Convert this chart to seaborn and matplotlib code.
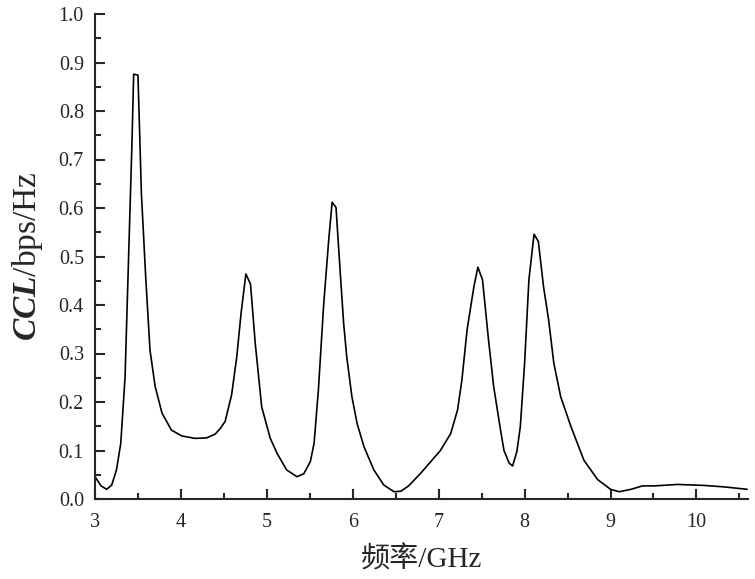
import matplotlib
matplotlib.use("Agg")
import matplotlib.pyplot as plt
import seaborn as sns
import pandas as pd
from matplotlib.ticker import MultipleLocator

freq = [3.00, 3.07, 3.136, 3.195, 3.25, 3.30, 3.35, 3.39, 3.43, 3.45, 3.50, 3.54, 3.59,
        3.64, 3.70, 3.78, 3.89, 4.01, 4.165, 4.30, 4.40, 4.46, 4.515, 4.59, 4.65, 4.70,
        4.756, 4.81, 4.865, 4.94, 5.04, 5.12, 5.23, 5.35, 5.43, 5.506, 5.55, 5.60, 5.66,
        5.72, 5.76, 5.805, 5.855, 5.894, 5.93, 5.99, 6.05, 6.13, 6.245, 6.36, 6.48, 6.56,
        6.65, 6.79, 7.02, 7.14, 7.22, 7.27, 7.33, 7.41, 7.456, 7.51, 7.58, 7.64, 7.72,
        7.76, 7.82, 7.86, 7.91, 7.95, 8.00, 8.05, 8.11, 8.16, 8.22, 8.28, 8.34, 8.42,
        8.54, 8.69, 8.85, 9.00, 9.10, 9.24, 9.37, 9.51, 9.78, 10.09, 10.32, 10.59]
ccl = [0.046, 0.027, 0.020, 0.029, 0.060, 0.115, 0.252, 0.493, 0.733, 0.876, 0.874, 0.630, 0.458,
       0.307, 0.232, 0.177, 0.142, 0.130, 0.125, 0.126, 0.134, 0.146, 0.160, 0.215, 0.293, 0.383,
       0.464, 0.443, 0.321, 0.190, 0.125, 0.094, 0.060, 0.046, 0.052, 0.077, 0.115, 0.225, 0.397,
       0.534, 0.612, 0.601, 0.465, 0.362, 0.293, 0.211, 0.156, 0.108, 0.060, 0.029, 0.015, 0.016,
       0.027, 0.053, 0.100, 0.135, 0.184, 0.245, 0.348, 0.438, 0.478, 0.452, 0.328, 0.232, 0.142,
       0.100, 0.074, 0.068, 0.098, 0.149, 0.280, 0.452, 0.546, 0.531, 0.438, 0.369, 0.280, 0.211,
       0.149, 0.080, 0.040, 0.020, 0.015, 0.020, 0.027, 0.027, 0.030, 0.028, 0.025, 0.020]

xticks = [3, 4, 5, 6, 7, 8, 9, 10]
yticks = [0.0, 0.1, 0.2, 0.3, 0.4, 0.5, 0.6, 0.7, 0.8, 0.9, 1.0]

sns.set_style("ticks")
plt.rcParams['font.family'] = ['Liberation Serif', 'Noto Sans CJK SC']
plt.rcParams['mathtext.fontset'] = 'custom'
plt.rcParams['mathtext.rm'] = 'Liberation Serif'
plt.rcParams['mathtext.it'] = 'Liberation Serif:italic'
plt.rcParams['mathtext.bf'] = 'Liberation Serif:bold'
plt.rcParams['mathtext.bfit'] = 'Liberation Serif:bold:italic'

df = pd.DataFrame({"freq": freq, "ccl": ccl})

fig = plt.figure(figsize=(7.55, 5.79), dpi=100)
ax = fig.add_axes([95/755, 80/579, 653/755, 485/579])
sns.lineplot(data=df, x="freq", y="ccl", ax=ax, sort=False, estimator=None,
             color="black", linewidth=1.2)

ax.set_xlim(3, 10.6)
ax.set_ylim(0, 1.0)
ax.set_xticks(xticks)
ax.set_yticks(yticks)
ax.set_yticklabels([f"{v:.1f}" for v in yticks])
ax.xaxis.set_minor_locator(MultipleLocator(0.5))
ax.yaxis.set_minor_locator(MultipleLocator(0.05))
ax.tick_params(which='major', direction='in', length=7.5, width=1.5, labelsize=14.5)
ax.tick_params(axis='y', which='major', pad=8)
ax.tick_params(axis='x', which='major', pad=10)
ax.tick_params(which='minor', direction='in', length=4, width=1.5)
sns.despine(ax=ax)
for s in ['left', 'bottom']:
    ax.spines[s].set_linewidth(1.5)

ax.set_xlabel("频率/GHz", fontsize=21, labelpad=10)
ax.set_ylabel(r"$\mathbfit{CCL}$/bps/Hz", fontsize=24, labelpad=10)

fig.savefig("out.png", dpi=100)
